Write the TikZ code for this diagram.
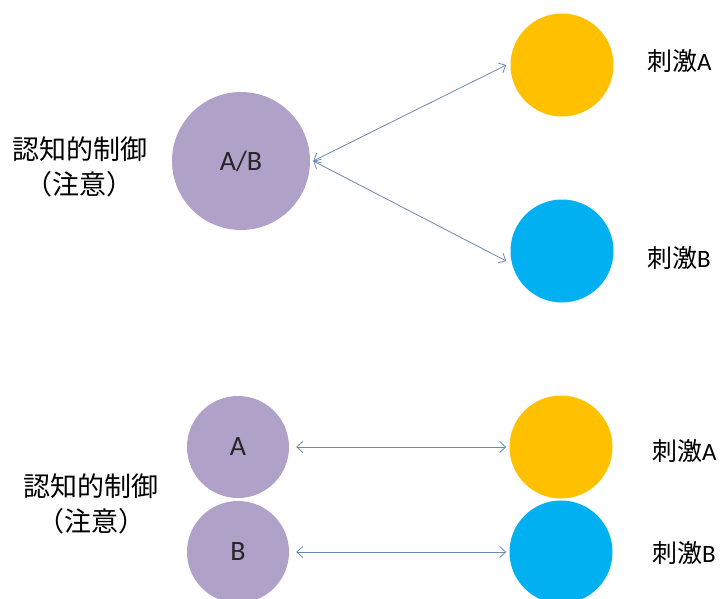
\documentclass[tikz,border=0pt]{standalone}
\usepackage{fontspec}
\newfontfamily\cjk{Noto Sans CJK JP}
\newfontfamily\carl{Carlito}
\usetikzlibrary{arrows.meta}
\definecolor{purp}{HTML}{B0A1C8}
\definecolor{orng}{HTML}{FFC000}
\definecolor{blu}{HTML}{00B0F0}
\definecolor{arr}{HTML}{6A88B2}
\begin{document}
\begin{tikzpicture}[x=1pt,y=-1pt,
  ball/.style={circle,inner sep=0pt,draw=none,fill=#1},
  balltext/.style={font=\carl\fontsize{28}{30}\selectfont,text=black!85},
  lbl/.style={font=\cjk\fontsize{25}{30}\selectfont,anchor=west,inner sep=0pt},
  ctl/.style={font=\cjk\fontsize{27}{35}\selectfont,align=center,inner sep=0pt},
  link/.style={draw=arr,line width=0.8pt,{Straight Barb[length=6pt,width=11pt]}-{Straight Barb[length=6pt,width=11pt]}}]
\useasboundingbox (0,0) rectangle (724,598);
% top
\node[ball=purp,minimum size=138pt,balltext] (ab) at (241,161) {A/B};
\node[ball=orng,minimum size=103pt] (oa) at (562,65) {};
\node[ball=blu,minimum size=103pt] (ob) at (562,251) {};
\node[lbl] (la) at (647,61) {刺激{\carl A}};
\node[lbl] (lb) at (647,258) {刺激{\carl B}};
\node[ctl] (c1) at (80,167) {認知的制御\\（注意）};
\draw[link] ([xshift=3pt]ab.east) -- ([xshift=-4pt]oa.west);
\draw[link] ([xshift=3pt]ab.east) -- ([shift={(-4pt,-10pt)}]ob.west);
% bottom
\node[ball=purp,minimum size=102pt,balltext] (a) at (238,447) {A};
\node[ball=purp,minimum size=102pt,balltext] (b) at (238,552) {B};
\node[ball=orng,minimum size=103pt] (oa2) at (561,447) {};
\node[ball=blu,minimum size=103pt] (ob2) at (561,552) {};
\node[lbl] (la2) at (652,451) {刺激{\carl A}};
\node[lbl] (lb2) at (652,553) {刺激{\carl B}};
\node[ctl] (c2) at (91,504) {認知的制御\\（注意）};
\draw[link] ([xshift=7pt]a.east) -- ([xshift=-3pt]oa2.west);
\draw[link] ([xshift=7pt]b.east) -- ([xshift=-3pt]ob2.west);
\end{tikzpicture}
\end{document}
